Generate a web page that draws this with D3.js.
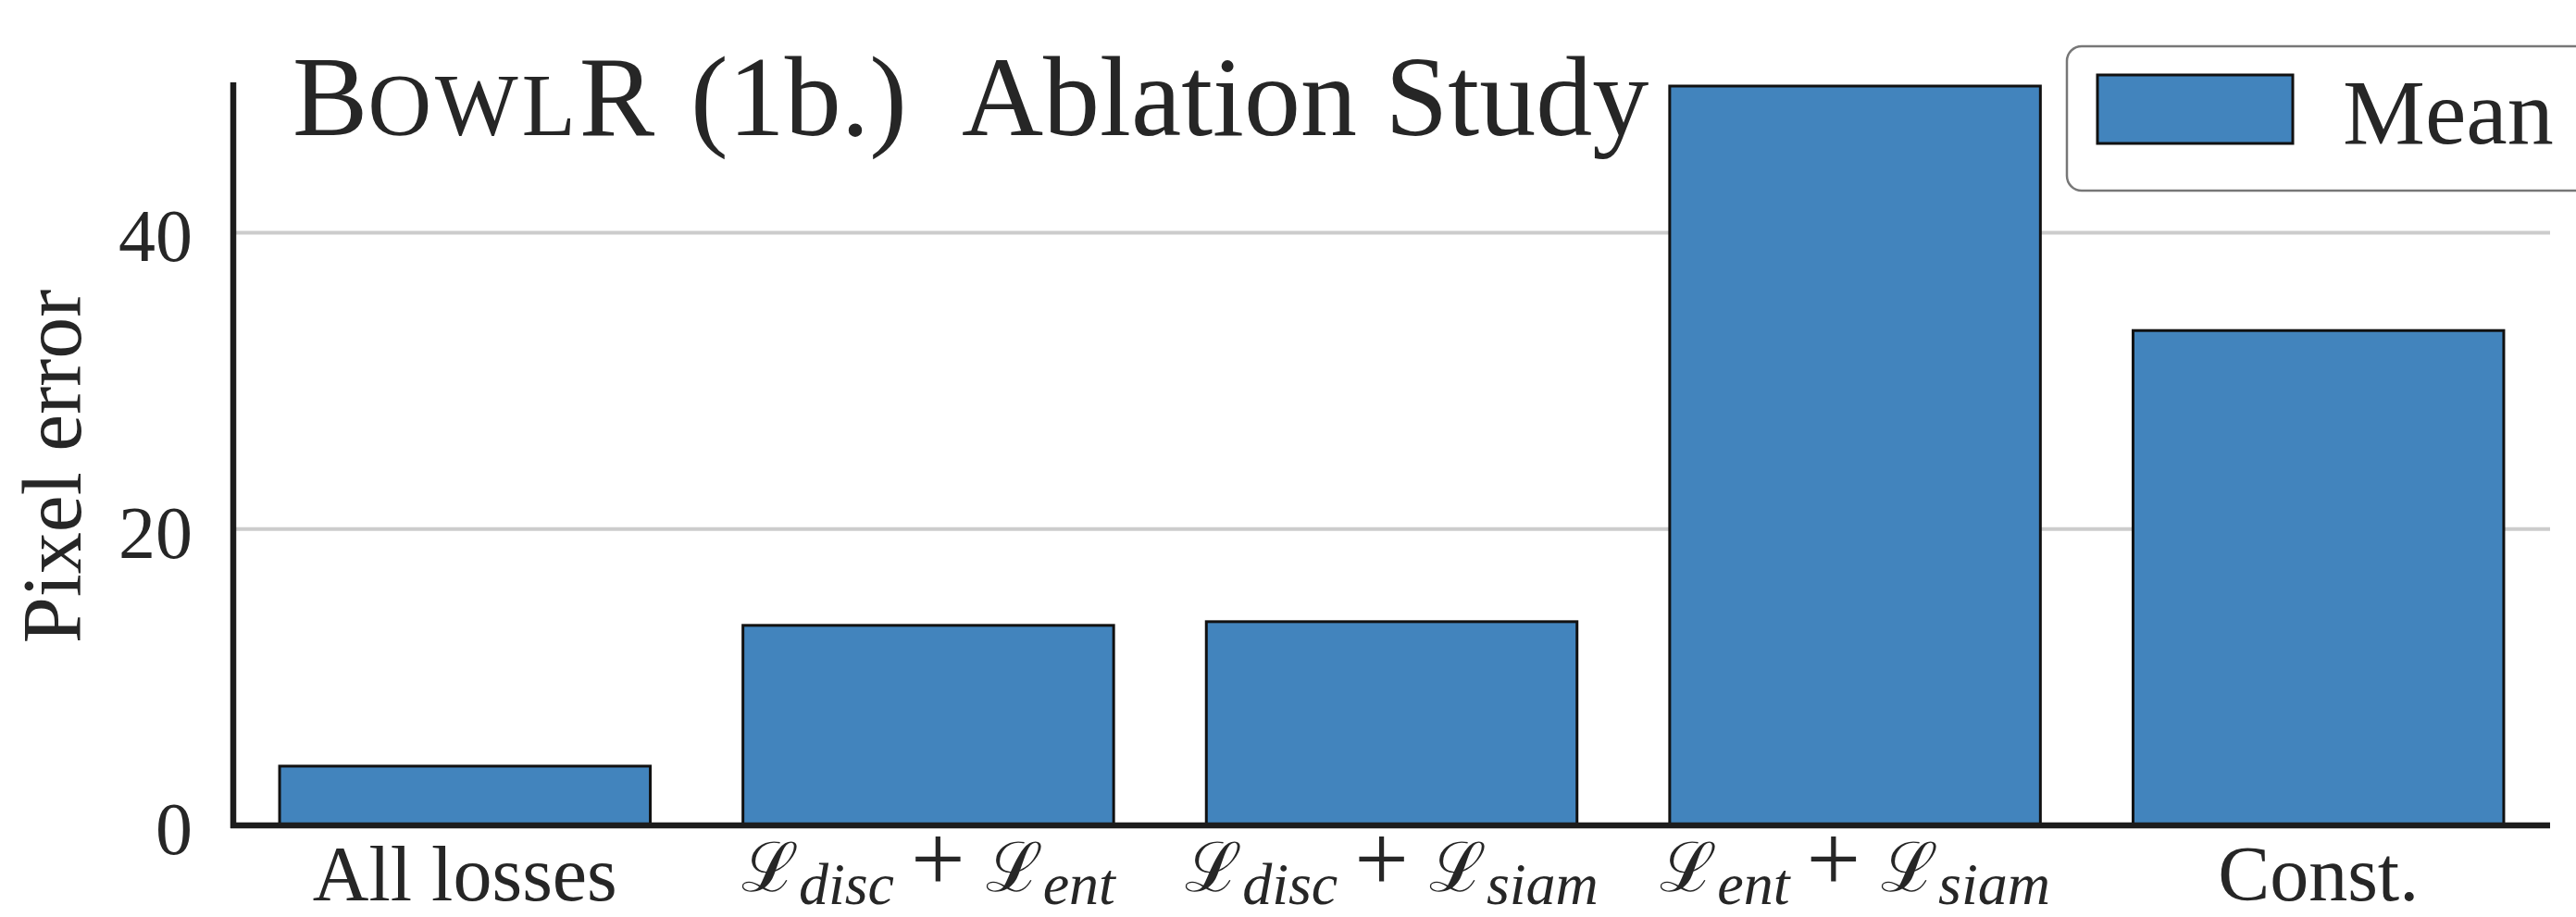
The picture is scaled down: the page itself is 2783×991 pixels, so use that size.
<!DOCTYPE html>
<html><head><meta charset="utf-8">
<script src="https://cdn.jsdelivr.net/npm/d3@7"></script>
<style>
body{margin:0;background:#fff}
svg{display:block}
text{font-family:"Liberation Serif","Times New Roman",serif;fill:#262626}
</style>
</head><body>
<svg id="chart" width="2783" height="991"></svg>
<script>
// ---- data ----
const categories = ["All losses", "ℒ_disc + ℒ_ent", "ℒ_disc + ℒ_siam", "ℒ_ent + ℒ_siam", "Const."];
const meanValues = [4.0, 13.5, 13.75, 49.9, 33.4];
const yTickValues = [0, 20, 40];
const seriesNames = ["Mean"];
const yLabel = "Pixel error";

// ---- setup ----
(function () {
const svg = d3.select("#chart");
const barColor = "#4284bd";
const ink = "#262626";
const axL = 252, axR = 2755, axT = 89, axB = 892;

const x = d3.scaleBand().domain(categories).range([axL, axR]).paddingInner(0.2).paddingOuter(0.1);
const y = d3.scaleLinear().domain([0, 50.15]).range([axB, axT]);

// gridlines
svg.append("g").selectAll("line")
  .data(yTickValues.filter(v => v > 0))
  .join("line")
  .attr("x1", axL).attr("x2", axR)
  .attr("y1", d => y(d)).attr("y2", d => y(d))
  .attr("stroke", "#cccccc").attr("stroke-width", 4);

// bars
svg.append("g").selectAll("rect")
  .data(categories.map((c, i) => ({c, v: meanValues[i]})))
  .join("rect")
  .attr("x", d => x(d.c))
  .attr("y", d => y(d.v))
  .attr("width", x.bandwidth())
  .attr("height", d => y(0) - y(d.v))
  .attr("fill", barColor)
  .attr("stroke", "#111")
  .attr("stroke-width", 3);

// y axis (ticks + labels)
const yAxis = svg.append("g").attr("transform", `translate(${axL},0)`)
  .call(d3.axisLeft(y).tickValues(yTickValues).tickSize(0).tickPadding(44).tickFormat(d3.format("d")));
yAxis.select(".domain").remove();
yAxis.selectAll("text")
  .attr("dy", "0.38em")
  .style("font-family", "Liberation Serif")
  .style("font-size", "80px")
  .style("fill", ink);

// spines
svg.append("line").attr("x1", axL).attr("x2", axL).attr("y1", axT).attr("y2", axB + 3)
  .attr("stroke", "#1c1c1c").attr("stroke-width", 6.5);
svg.append("line").attr("x1", axL - 3).attr("x2", axR).attr("y1", axB).attr("y2", axB)
  .attr("stroke", "#1c1c1c").attr("stroke-width", 6.5);

// x tick labels
function renderLabel(sel, label) {
  if (!label.includes("ℒ")) {
    sel.attr("y", 973).style("font-size", "84px").text(label);
    return;
  }
  sel.attr("y", 963);
  const tokens = label.split(" ");
  let shifted = false;
  tokens.forEach((tok, i) => {
    if (tok.startsWith("ℒ_")) {
      sel.append("tspan")
        .attr("dx", i ? 22 : 0).attr("dy", shifted ? -14 : 0)
        .style("font-family", "DejaVu Serif").style("font-size", "74px")
        .text("ℒ");
      sel.append("tspan").attr("dy", 14)
        .style("font-style", "italic").style("font-size", "64px")
        .text(tok.slice(2));
      shifted = true;
    } else {
      sel.append("tspan")
        .attr("dx", 18).attr("dy", shifted ? -14 : 0)
        .style("font-size", "104px").style("font-weight", "300")
        .text(tok);
      shifted = false;
    }
  });
}
svg.append("g").selectAll("text")
  .data(categories)
  .join("text")
  .attr("x", d => x(d) + x.bandwidth() / 2)
  .attr("text-anchor", "middle")
  .each(function(d) { renderLabel(d3.select(this), d); });

// y label
svg.append("text")
  .attr("transform", "translate(87,504) rotate(-90)")
  .attr("text-anchor", "middle")
  .style("font-size", "90px")
  .text(yLabel);

// title  (Bowl in small caps)
const title = svg.append("text").attr("x", 316).attr("y", 146).style("font-size", "122px");
title.append("tspan").text("B");
title.append("tspan").style("font-size", "95px").attr("letter-spacing", "4").text("OWL");
title.append("tspan").text("R");
title.append("tspan").attr("x", 746).text("(1b.)");
title.append("tspan").attr("x", 1039).text("Ablation Study");

// legend
const lg = svg.append("g");
lg.append("rect").attr("x", 2233).attr("y", 50).attr("width", 700).attr("height", 156)
  .attr("rx", 16).attr("fill", "#fff").attr("stroke", "#777").attr("stroke-width", 2.5);
const items = lg.selectAll("g.item").data(seriesNames).join("g").attr("class", "item");
items.append("rect").attr("x", 2266).attr("y", 81).attr("width", 211).attr("height", 74)
  .attr("fill", barColor).attr("stroke", "#111").attr("stroke-width", 3);
items.append("text").attr("x", 2531).attr("y", 155).style("font-size", "100px").text(d => d);
})();
</script>
</body></html>
